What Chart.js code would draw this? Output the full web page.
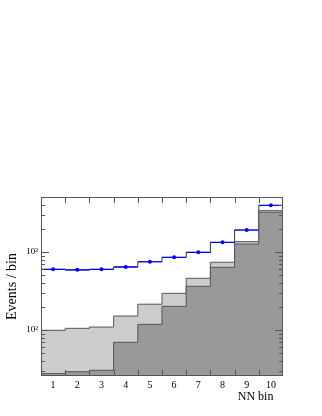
<!DOCTYPE html>
<html>
<head>
<meta charset="utf-8">
<script src="https://cdn.jsdelivr.net/npm/chart.js@4"></script>
<style>
  body { margin: 0; background: #fff; }
</style>
</head>
<body>
<canvas id="myChart" width="322" height="416"></canvas>
<script>
// bins of the NN output
const bins = [1, 2, 3, 4, 5, 6, 7, 8, 9, 10];
// observed data (blue points)
const dataVals = [600, 590, 600, 643, 750, 855, 990, 1330, 1915, 3960];
// total expectation (black outline)
const totalVals = [598, 588, 598, 640, 748, 852, 988, 1325, 1910, 3950];
// light grey component
const lightVals = [99, 105, 109, 151, 214, 295, 460, 738, 1356, 3390];
// dark grey component
const darkVals = [27.6, 29.2, 30.4, 69.5, 118, 201, 363, 637, 1267, 3230];
const yTicks = [100, 1000];
const yTickLabels = ['10²', '10³'];

// step histogram: left edge of every bin plus closing right edge
function steps(vals) {
    let pts = bins.map((b, i) => ({x: b - 0.5, y: vals[i]}));
    pts.push({x: bins[bins.length - 1] + 0.5, y: vals[vals.length - 1]});
    return pts;
}
// horizontal bars across each bin, broken between bins
function xbars(vals) {
    let pts = [];
    bins.forEach((b, i) => {
        pts.push({x: b - 0.5, y: vals[i]});
        pts.push({x: b + 0.5, y: vals[i]});
        pts.push({x: b + 0.5, y: null});
    });
    return pts;
}

const frame = {
    id: 'frame',
    afterDraw(chart) {
        const c = chart.ctx, a = chart.chartArea;
        const xs = chart.scales.x, ys = chart.scales.y;
        c.save();
        c.strokeStyle = '#555';
        c.lineWidth = 1;
        c.strokeRect(a.left + 0.5, a.top + 0.5, a.right - a.left - 1, a.bottom - a.top - 1);
        c.beginPath();
        for (let e = 1.5; e < 10.5; e++) {
            let px = Math.round(xs.getPixelForValue(e)) + 0.5;
            c.moveTo(px, a.bottom); c.lineTo(px, a.bottom - 6);
            c.moveTo(px, a.top); c.lineTo(px, a.top + 6);
        }
        for (let d = 10; d <= 1000; d *= 10) {
            for (let m = 1; m <= 9; m++) {
                let v = d * m;
                if (v < ys.min || v > ys.max) continue;
                let py = Math.round(ys.getPixelForValue(v)) + 0.5;
                let len = m === 1 ? 8 : 4;
                c.moveTo(a.left, py); c.lineTo(a.left + len, py);
                c.moveTo(a.right, py); c.lineTo(a.right - len, py);
            }
        }
        c.stroke();
        c.restore();
    }
};

let myChart = document.getElementById('myChart').getContext('2d');

let histChart = new Chart(myChart, {
    type: 'line',
    data: {
        datasets: [
            {
                data: steps(totalVals), stepped: 'before', order: 4,
                borderColor: '#333', borderWidth: 1, backgroundColor: '#fff',
                fill: 'start', pointRadius: 0
            },
            {
                data: steps(lightVals), stepped: 'before', order: 3,
                borderColor: '#555', borderWidth: 1, backgroundColor: '#cccccc',
                fill: 'start', pointRadius: 0
            },
            {
                data: steps(darkVals), stepped: 'before', order: 2,
                borderColor: '#555', borderWidth: 1, backgroundColor: '#999999',
                fill: 'start', pointRadius: 0
            },
            {
                data: xbars(dataVals), order: 1, spanGaps: false,
                borderColor: '#0000ff', borderWidth: 1.2, pointRadius: 0, fill: false
            },
            {
                data: bins.map((b, i) => ({x: b, y: dataVals[i]})), order: 0,
                showLine: false, pointRadius: 2, pointBackgroundColor: '#0000ff',
                pointBorderWidth: 0
            }
        ]
    },
    options: {
        responsive: false,
        animation: false,
        layout: {padding: {left: 0, right: 39, top: 197, bottom: 0}},
        plugins: {legend: {display: false}, tooltip: {enabled: false}},
        scales: {
            x: {
                type: 'linear', min: 0.5, max: 10.5,
                grid: {display: false, drawTicks: false}, border: {display: false},
                afterBuildTicks: s => { s.ticks = bins.map(v => ({value: v})); },
                afterFit: s => { s.height = 40; },
                ticks: {
                    padding: 3, color: '#000', maxRotation: 0,
                    font: {family: 'Liberation Serif', size: 10}
                },
                title: {
                    display: true, text: 'NN bin\u2009\u2009\u2009\u2009', align: 'end', color: '#000',
                    font: {family: 'Liberation Serif', size: 12},
                    padding: {top: 0, bottom: 12}
                }
            },
            y: {
                type: 'logarithmic', min: 25.7, max: 5070,
                grid: {display: false, drawTicks: false}, border: {display: false},
                afterBuildTicks: s => { s.ticks = yTicks.map(v => ({value: v})); },
                afterFit: s => { s.width = 41; },
                ticks: {
                    padding: 3, color: '#000',
                    font: {family: 'Liberation Serif', size: 9},
                    callback: v => yTickLabels[yTicks.indexOf(v)]
                },
                title: {
                    display: true, text: 'Events / bin', color: '#000',
                    font: {family: 'Liberation Serif', size: 14},
                    padding: {top: 4, bottom: 0}
                }
            }
        }
    },
    plugins: [frame]
});
</script>
</body>
</html>
